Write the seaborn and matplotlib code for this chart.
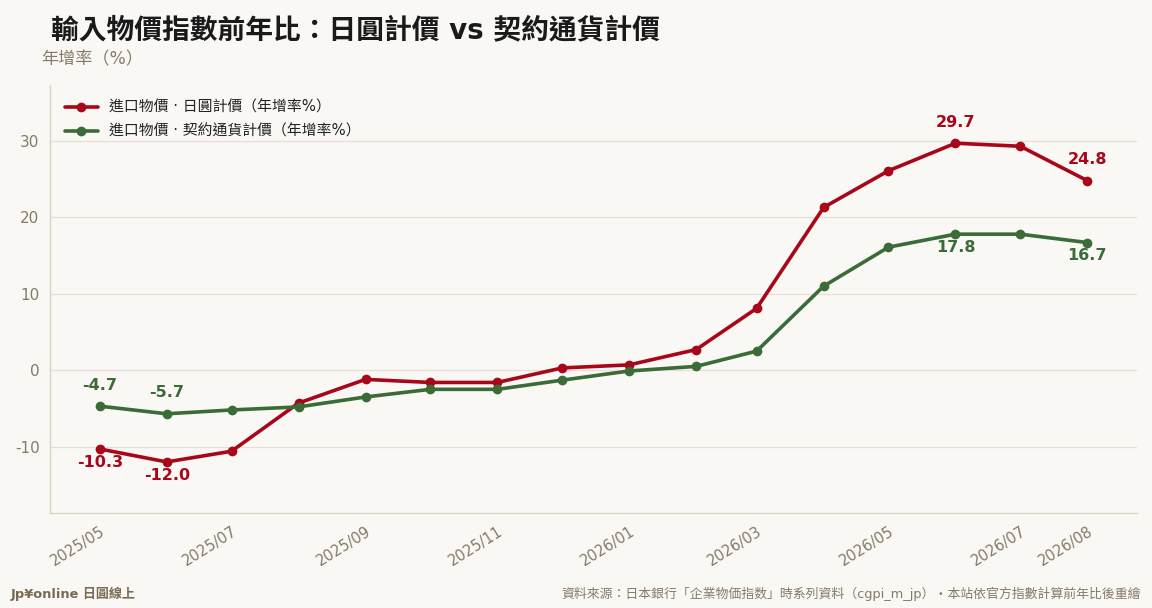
import seaborn as sns
import matplotlib.pyplot as plt
import pandas as pd

months = ['2025/05', '2025/06', '2025/07', '2025/08', '2025/09', '2025/10', '2025/11', '2025/12',
          '2026/01', '2026/02', '2026/03', '2026/04', '2026/05', '2026/06', '2026/07', '2026/08']
yen_yoy = [-10.3, -12.0, -10.6, -4.3, -1.2, -1.6, -1.6, 0.3,
           0.7, 2.7, 8.1, 21.3, 26.1, 29.7, 29.3, 24.8]
contract_yoy = [-4.7, -5.7, -5.2, -4.8, -3.5, -2.5, -2.5, -1.3,
                -0.1, 0.5, 2.5, 11.0, 16.1, 17.8, 17.8, 16.7]
shown_ticks = ['2025/05', '2025/07', '2025/09', '2025/11', '2026/01', '2026/03', '2026/05', '2026/07', '2026/08']

name_yen = '進口物價 · 日圓計價（年增率%）'
name_contract = '進口物價 · 契約通貨計價（年增率%）'

RED = '#a8071a'
GREEN = '#3b6b37'
BG = '#faf8f5'
MUTED = '#857a68'

sns.set_theme(style='white')
plt.rcParams['font.family'] = ['DejaVu Sans', 'Noto Sans CJK TC']
plt.rcParams['axes.unicode_minus'] = False

dates = pd.to_datetime(months, format='%Y/%m')
df = pd.DataFrame({'date': list(dates) * 2,
                   'value': yen_yoy + contract_yoy,
                   'series': [name_yen] * len(months) + [name_contract] * len(months)})

fig = plt.figure(figsize=(11.52, 6.08), dpi=100, facecolor=BG)
ax = fig.add_axes([0.0434, 0.156, 0.9436, 0.704])
ax.set_facecolor(BG)

sns.lineplot(data=df, x='date', y='value', hue='series',
             palette=[RED, GREEN], marker='o', markersize=7, markeredgewidth=0,
             linewidth=2.6, ax=ax)

ax.set_ylim(-18.7, 37.3)
ax.set_yticks([-10, 0, 10, 20, 30])
ax.set_xlim(dates[0] - pd.Timedelta(days=23), dates[-1] + pd.Timedelta(days=23))
ax.set_xticks(dates)
ax.set_xticklabels([m if m in shown_ticks else '' for m in months],
                   rotation=32, ha='right', rotation_mode='anchor')
ax.tick_params(axis='both', colors=MUTED, labelsize=11, length=4, width=0.8, labelcolor=MUTED)
ax.tick_params(axis='x', labelsize=10.5)
ax.grid(axis='y', color='#ecdcd8', linewidth=0.9)
ax.set_axisbelow(True)
for s in ['top', 'right']:
    ax.spines[s].set_visible(False)
for s in ['left', 'bottom']:
    ax.spines[s].set_color('#ddd3c4')
    ax.spines[s].set_linewidth(1)
ax.set_xlabel('')
ax.set_ylabel('')

leg = ax.legend(loc='upper left', frameon=False, fontsize=10.7, handlelength=2.2,
                borderaxespad=0.6, labelspacing=0.6)
for t in leg.get_texts():
    t.set_color('#222222')

# value labels: first, minimum, maximum, last
def label_points(vals, color, above_low):
    n = len(vals)
    i_min = vals.index(min(vals))
    i_max = vals.index(max(vals))
    for i in sorted({0, i_min, i_max, n - 1}):
        high = i in (i_max, n - 1) and i > 2
        up = (not above_low) if high else above_low
        off = 15 if up else -9.5
        ax.annotate(f'{vals[i]:.1f}', (dates[i], vals[i]), xytext=(0, off),
                    textcoords='offset points', ha='center', va='center',
                    fontsize=11.5, fontweight='bold', color=color)

label_points(yen_yoy, RED, above_low=False)
label_points(contract_yoy, GREEN, above_low=True)

fig.text(0.044, 0.951, '輸入物價指數前年比：日圓計價 vs 契約通貨計價', fontsize=20,
         fontweight='bold', color='#1a1a1a', va='center')
fig.text(0.036, 0.902, '年增率（%）', fontsize=12.3, color=MUTED, va='center')
fig.text(0.009, 0.023, 'Jp¥online 日圓線上', fontsize=9.4, fontweight='bold', color='#7a6a52', va='center')
fig.text(0.990, 0.023, '資料來源：日本銀行「企業物価指数」時系列資料（cgpi_m_jp）・本站依官方指數計算前年比後重繪',
         fontsize=9.3, color=MUTED, va='center', ha='right')

fig.savefig('out.png', dpi=100, facecolor=BG)
